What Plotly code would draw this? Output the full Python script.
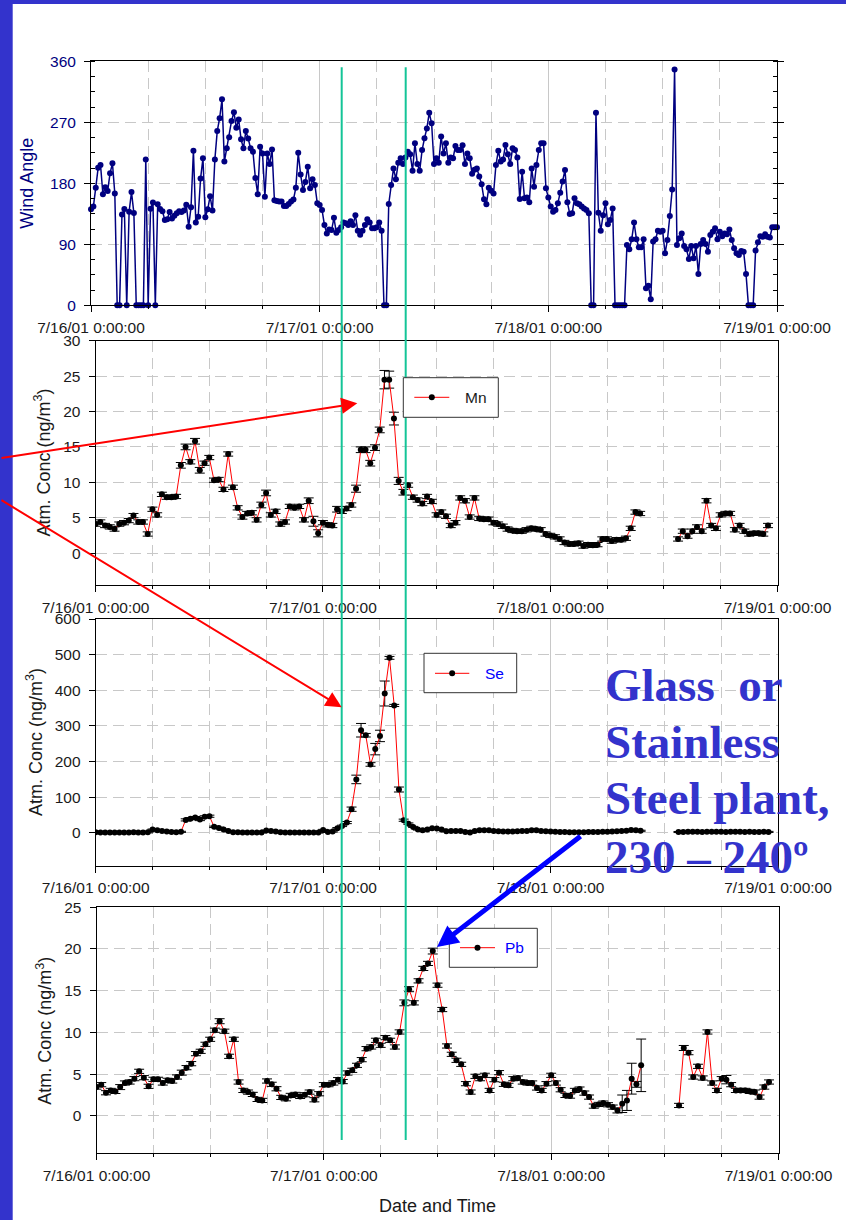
import pandas as pd
import plotly.graph_objects as go

W, H = 846, 1220

# ---- data -------------------------------------------------------------
# wind direction, 15-minute readings from 7/16/01 0:00 to 7/19/01 0:00
wind_angle = [
    141.6, 145.6, 173.6, 203, 207, 163.8, 174, 168.7, 195, 209.5,
    165, 0, 0, 134, 142, 0, 138, 167, 136, 0,
    0, 0, 0, 215, 0, 142.6, 151.5, 0, 149, 142,
    138.7, 126, 127, 137.7, 128, 132, 135.7, 138.7, 137.7, 139.7,
    148.5, 116, 144.6, 228, 122, 130.8, 187, 217, 130, 141.6,
    161, 139.7, 215, 257, 276, 304, 212, 231.6, 248, 272,
    285, 262, 274, 245, 231.6, 257, 246, 231.6, 226.7, 188,
    164, 234, 224, 160, 224, 208.5, 230, 155, 154, 153,
    153, 146.6, 146.6, 149.5, 153, 156, 173.6, 225, 193, 170,
    182, 204.6, 172.6, 186, 177.5, 150.5, 148, 140.7, 118.5, 106,
    112, 111, 129, 107, 111, 115, 122, 121, 118.5, 124,
    118.5, 133, 110, 104, 110, 118.5, 127, 122, 113.6, 113.6,
    115, 122, 110, 0, 0, 149.5, 177.5, 202, 186, 210.5,
    217, 208.5, 218, 226.7, 222.8, 198.7, 239, 208.5, 198.7, 229,
    246.4, 261, 284, 268.5, 208.5, 217, 210.5, 249, 224, 239,
    210.5, 218, 217, 235, 229, 229, 236, 208.5, 224, 217,
    194, 200, 202, 190, 178.5, 156.4, 149, 173.6, 169, 165,
    207, 228, 212, 215, 236.6, 223, 208.5, 231.6, 229, 218,
    157, 197, 158, 159, 152, 202, 175, 207, 229, 239,
    239, 172.6, 159, 145.6, 138, 140.7, 150.5, 166, 182.5, 199.7,
    152, 134.8, 135.7, 158, 150.5, 149, 145.6, 143, 140.7, 135.7,
    0, 0, 284, 136.7, 110, 133, 150.5, 119.5, 126, 143,
    0, 0, 0, 0, 0, 89, 82.6, 97.4, 122, 97.4,
    85.6, 85.6, 97.4, 25, 29, 8.9, 94, 97.4, 110, 108.7,
    110, 76.7, 96.4, 131.8, 171, 348, 89, 98.9, 106, 87.5,
    82.6, 68.4, 87.5, 69.3, 87.5, 46, 90.5, 96.4, 90.5, 79,
    103.8, 108.7, 113.6, 97.4, 108.7, 102, 106, 105, 112, 96.4,
    84, 76.7, 74.3, 80, 79, 46, 0, 0, 0, 80.7,
    93, 102, 101, 104.8, 101, 100, 115, 115, 115,
]

# half-hourly concentrations (ng/m3); None = no sample
mn_conc = [
    4.1, 4.4, 3.9, 3.7, 3.4, 4.1, 4.3, 4.6, 5.3, 4.4,
    4.4, 2.7, 6.2, 5.4, 8.3, 7.9, 7.9, 8.0, 12.4, 15.0,
    12.9, 15.8, 11.7, 12.7, 13.5, 10.3, 10.4, 9.0, 14.0, 9.3,
    6.4, 5.1, 5.6, 5.7, 4.7, 6.8, 8.5, 5.4, 5.9, 4.1,
    4.4, 6.6, 6.4, 6.6, 4.7, 7.4, 4.5, 2.8, 4.3, 4.0,
    3.9, 6.2, 5.9, 6.3, 6.8, 9.1, 14.6, 14.6, 12.7, 14.9,
    17.4, 24.5, 24.5, 19.0, 10.2, 8.6, 9.6, 7.9, 7.5, 7.0,
    8.0, 7.3, 5.4, 5.8, 5.2, 3.9, 4.3, 7.8, 7.4, 5.1,
    7.8, 4.9, 4.8, 4.8, 4.3, 4.1, 3.8, 3.4, 3.2, 3.1,
    3.1, 3.3, 3.5, 3.4, 3.3, 2.7, 2.5, 2.3, 2.0, 1.5,
    1.3, 1.3, 1.4, 1.0, 1.2, 1.1, 1.2, 2.0, 2.0, 1.7,
    1.9, 1.9, 2.1, 3.5, 5.8, 5.6, None, None, None, None,
    None, None, None, 2.0, 3.1, 2.4, 3.1, 3.7, 3.1, 7.4,
    3.9, 3.5, 5.4, 5.6, 5.6, 3.3, 3.9, 3.1, 2.7, 2.8,
    2.8, 2.7, 3.9,
]
mn_err = [
    0.3, 0.3, 0.3, 0.3, 0.3, 0.3, 0.3, 0.3, 0.3, 0.3,
    0.3, 0.3, 0.3, 0.3, 0.3, 0.3, 0.3, 0.3, 0.4, 0.4,
    0.3, 0.4, 0.4, 0.3, 0.3, 0.3, 0.3, 0.3, 0.3, 0.3,
    0.3, 0.3, 0.3, 0.3, 0.3, 0.4, 0.4, 0.3, 0.3, 0.3,
    0.3, 0.3, 0.3, 0.3, 0.3, 0.4, 0.7, 0.5, 0.3, 0.3,
    0.3, 0.4, 0.3, 0.3, 0.3, 0.5, 0.4, 0.4, 0.4, 0.4,
    0.4, 1.3, 1.2, 0.9, 0.5, 0.4, 0.3, 0.3, 0.3, 0.3,
    0.3, 0.3, 0.3, 0.3, 0.3, 0.3, 0.3, 0.3, 0.3, 0.3,
    0.3, 0.3, 0.3, 0.3, 0.3, 0.3, 0.3, 0.3, 0.3, 0.3,
    0.3, 0.3, 0.3, 0.3, 0.3, 0.3, 0.3, 0.3, 0.3, 0.3,
    0.3, 0.3, 0.3, 0.3, 0.3, 0.3, 0.3, 0.3, 0.3, 0.3,
    0.3, 0.3, 0.3, 0.3, 0.3, 0.3, None, None, None, None,
    None, None, None, 0.3, 0.3, 0.3, 0.3, 0.3, 0.3, 0.3,
    0.3, 0.3, 0.3, 0.3, 0.3, 0.3, 0.3, 0.3, 0.3, 0.3,
    0.3, 0.3, 0.3,
]

se_conc = [
    1.5, 1.2, 1.0, 1.1, 1.3, 1.2, 1.0, 1.4, 1.6, 1.2,
    1.1, 1.5, 9.4, 7.5, 5.6, 3.7, 2.5, 2.0, 3.0, 36.5,
    40, 43, 37.4, 45, 46.8, 17, 14, 9.4, 5, 2,
    1.5, 1.2, 1.0, 1.3, 1.1, 1.4, 6.6, 5.6, 3.7, 1.9,
    1.0, 1.0, 1.2, 1.1, 1.0, 1.3, 1.2, 1.0, 8.4, 2.8,
    3.7, 13, 19.7, 29, 66.5, 150, 288, 274, 192, 235,
    272, 391, 491, 357.5, 121.7, 35.6, 26, 16.8, 9.4, 7.5,
    9.4, 13, 12, 9.4, 4.7, 5.6, 5.6, 5.6, 2.8, 1.0,
    5.6, 7.5, 7.5, 7.5, 5.6, 4.7, 3.7, 3.7, 3.7, 4.7,
    5.6, 5.6, 7.5, 7.5, 5.6, 4.7, 3.7, 3.0, 2.5, 2.2,
    2.0, 2.0, 1.8, 2.0, 2.2, 2.5, 2.8, 3.0, 3.5, 4.0,
    4.5, 5.0, 6.0, 8.0, 7.5, 6.0, None, None, None, None,
    None, None, None, 2.5, 2.8, 3.0, 3.2, 3.0, 2.8, 3.0,
    3.2, 3.4, 3.0, 2.8, 3.0, 3.2, 3.0, 2.8, 3.0, 2.6,
    2.8, 3.0, 2.8,
]
se_err = [
    1.5, 1.5, 1.5, 1.5, 1.5, 1.5, 1.5, 1.5, 1.5, 1.5,
    1.5, 1.5, 1.5, 1.5, 1.5, 1.5, 1.5, 1.5, 1.5, 3,
    3, 3, 3, 3, 3, 2, 2, 1.5, 1.5, 1.5,
    1.5, 1.5, 1.5, 1.5, 1.5, 1.5, 1.5, 1.5, 1.5, 1.5,
    1.5, 1.5, 1.5, 1.5, 1.5, 1.5, 1.5, 1.5, 1.5, 1.5,
    1.5, 2, 2, 3, 6, 12, 19, 5, 5, 16,
    16, 35, 4, 3, 7, 3, 2, 1.5, 1.5, 1.5,
    1.5, 1.5, 1.5, 1.5, 1.5, 1.5, 1.5, 1.5, 1.5, 1.5,
    1.5, 1.5, 1.5, 1.5, 1.5, 1.5, 1.5, 1.5, 1.5, 1.5,
    1.5, 1.5, 1.5, 1.5, 1.5, 1.5, 1.5, 1.5, 1.5, 1.5,
    1.5, 1.5, 1.5, 1.5, 1.5, 1.5, 1.5, 1.5, 1.5, 1.5,
    1.5, 1.5, 1.5, 2, 2, 1.5, None, None, None, None,
    None, None, None, 1.5, 1.5, 1.5, 1.5, 1.5, 1.5, 1.5,
    1.5, 1.5, 1.5, 1.5, 1.5, 1.5, 1.5, 1.5, 1.5, 1.5,
    1.5, 1.5, 1.5,
]

pb_conc = [
    3.44, 3.73, 2.76, 3.04, 2.92, 3.44, 3.93, 4.05, 4.45, 5.33,
    4.57, 3.53, 4.37, 4.37, 3.93, 4.25, 4.17, 4.65, 5.17, 5.77,
    6.25, 7.45, 7.73, 8.57, 9.17, 10.26, 11.34, 10.14, 7.13, 9.17,
    4.05, 3.04, 2.84, 2.56, 1.96, 1.84, 4.17, 3.77, 3.24, 2.2,
    2.04, 2.44, 2.56, 2.32, 2.52, 2.84, 1.92, 2.64, 3.73, 3.73,
    3.93, 4.33, 4.1, 5.13, 5.45, 6.05, 6.73, 8.05, 8.25, 9.05,
    8.45, 9.37, 9.05, 8.25, 10.05, 13.54, 15.18, 13.54, 16.18, 17.67,
    18.27, 19.75, 15.66, 12.74, 8.37, 7.37, 6.65, 6.17, 3.85, 2.84,
    4.73, 4.45, 4.85, 3.04, 4.33, 5.17, 3.77, 3.65, 4.45, 4.53,
    4.05, 3.93, 3.93, 3.33, 3.04, 3.85, 4.85, 3.93, 3.12, 2.44,
    2.36, 3.04, 3.2, 2.72, 2.24, 1.16, 1.36, 1.52, 1.32, 1.04,
    0.64, 1.44, 1.84, 4.45, 3.77, 6.05, None, None, None, None,
    None, None, None, 1.24, 8.13, 7.57, 4.65, 5.93, 4.53, 10.05,
    3.93, 3.04, 4.45, 4.33, 3.73, 3.04, 3.04, 3.04, 2.92, 2.84,
    2.24, 3.44, 4.05,
]
pb_err = [
    0.25, 0.25, 0.25, 0.25, 0.25, 0.3, 0.25, 0.25, 0.25, 0.25,
    0.25, 0.25, 0.25, 0.25, 0.25, 0.25, 0.25, 0.25, 0.3, 0.25,
    0.25, 0.25, 0.25, 0.25, 0.25, 0.25, 0.3, 0.25, 0.25, 0.25,
    0.25, 0.25, 0.25, 0.25, 0.25, 0.25, 0.25, 0.25, 0.25, 0.25,
    0.25, 0.25, 0.25, 0.25, 0.25, 0.25, 0.25, 0.25, 0.25, 0.25,
    0.25, 0.25, 0.25, 0.25, 0.25, 0.25, 0.25, 0.25, 0.25, 0.25,
    0.25, 0.25, 0.25, 0.25, 0.25, 0.35, 0.3, 0.25, 0.25, 0.25,
    0.25, 0.35, 0.25, 0.25, 0.25, 0.25, 0.25, 0.25, 0.25, 0.25,
    0.25, 0.25, 0.25, 0.25, 0.25, 0.25, 0.25, 0.25, 0.25, 0.25,
    0.25, 0.25, 0.25, 0.25, 0.25, 0.25, 0.25, 0.25, 0.25, 0.25,
    0.25, 0.25, 0.25, 0.25, 0.25, 0.25, 0.25, 0.25, 0.25, 0.25,
    0.3, 1.05, 1.2, 1.85, 0.35, 3.15, None, None, None, None,
    None, None, None, 0.25, 0.3, 0.25, 0.25, 0.25, 0.25, 0.25,
    0.25, 0.25, 0.25, 0.5, 0.25, 0.25, 0.25, 0.25, 0.25, 0.25,
    0.25, 0.25, 0.25,
]

day_ticks = ["2001-07-16", "2001-07-17", "2001-07-18", "2001-07-19"]
day_labels = ["7/16/01 0:00:00", "7/17/01 0:00:00", "7/18/01 0:00:00", "7/19/01 0:00:00"]

wind_time = pd.date_range("2001-07-16 00:00", periods=len(wind_angle), freq="15min")
sample_time = pd.date_range("2001-07-16 00:00", periods=len(mn_conc), freq="30min")

# ---- helpers ----------------------------------------------------------
SANS = "Liberation Sans, Arial, sans-serif"
SERIF = "Liberation Serif, Times New Roman, serif"
NAVY = "#000080"
GRID = "#c8c8c8"
DASH = "11px,6px"
SLIDE_BLUE = "#3333CC"


def px(x):
    return x / W


def py(y):
    return 1 - y / H


def x_axis(left, right, anchor):
    return dict(
        domain=[px(left), px(right)], anchor=anchor, type="date",
        range=[day_ticks[0], day_ticks[-1]], automargin=False,
        tickmode="array", tickvals=day_ticks, ticktext=day_labels,
        ticks="outside", ticklen=6, tickwidth=1, tickcolor="#000",
        ticklabelstandoff=2,
        showline=True, linecolor="#000", linewidth=1, mirror=True,
        showgrid=True, gridcolor=GRID, gridwidth=1,
        minor=dict(dtick=6 * 3600 * 1000, ticks="outside", ticklen=3,
                   tickcolor="#000", showgrid=True, gridcolor=GRID,
                   griddash=DASH),
        zeroline=False, fixedrange=True,
        tickfont=dict(family=SANS, size=15.5, color="#1a1a1a"),
    )


def y_axis(top, bottom, anchor, rng, tickvals, color):
    return dict(
        domain=[py(bottom), py(top)], anchor=anchor, range=rng, automargin=False,
        tickmode="array", tickvals=tickvals,
        ticks="outside", ticklen=6, tickwidth=1, tickcolor="#000",
        ticklabelstandoff=5,
        showline=True, linecolor="#000", linewidth=1, mirror=True,
        showgrid=True, gridcolor=GRID, griddash=DASH,
        zeroline=False, fixedrange=True,
        tickfont=dict(family=SANS, size=15.5, color=color),
    )


# panel boxes in pixels: left, right, top, bottom
P_WIND = (91, 777, 61.3, 305.3)
P_MN = (95.6, 777.5, 340.7, 585)
P_SE = (95.7, 778, 619, 865.7)
P_PB = (96.5, 778.5, 907.3, 1153.3)

fig = go.Figure()

fig.add_trace(go.Scatter(
    x=wind_time, y=wind_angle, mode="lines+markers", xaxis="x", yaxis="y",
    line=dict(color=NAVY, width=1.5), marker=dict(color=NAVY, size=6),
    cliponaxis=False, showlegend=False, name="Wind Angle",
))

for name, conc, err, xa, ya in [
    ("Mn", mn_conc, mn_err, "x2", "y2"),
    ("Se", se_conc, se_err, "x3", "y3"),
    ("Pb", pb_conc, pb_err, "x4", "y4"),
]:
    fig.add_trace(go.Scatter(
        x=sample_time, y=conc, mode="lines+markers", xaxis=xa, yaxis=ya,
        name=name, showlegend=False, connectgaps=False,
        line=dict(color="#FF0000", width=1),
        marker=dict(color="#000", size=6),
        error_y=dict(type="data", array=err, visible=True, color="#000",
                     thickness=1, width=5),
    ))

layout = dict(
    template="none",
    width=W, height=H, autosize=False,
    margin=dict(l=0, r=0, t=0, b=0, pad=0),
    paper_bgcolor="white", plot_bgcolor="white",
    font=dict(family=SANS, color="#1a1a1a"),
    showlegend=False,
)

layout["xaxis"] = x_axis(P_WIND[0], P_WIND[1], "y")
layout["xaxis2"] = x_axis(P_MN[0], P_MN[1], "y2")
layout["xaxis3"] = x_axis(P_SE[0], P_SE[1], "y3")
layout["xaxis4"] = x_axis(P_PB[0], P_PB[1], "y4")

wind_y = y_axis(P_WIND[2], P_WIND[3], "x", [0, 360], [0, 90, 180, 270, 360], NAVY)
wind_y["mirror"] = "ticks"
wind_y["minor"] = dict(dtick=22.5, ticks="inside", ticklen=4, tickcolor="#000",
                       showgrid=False)
layout["yaxis"] = wind_y
layout["yaxis2"] = y_axis(P_MN[2], P_MN[3], "x2", [-4.5, 30],
                          [0, 5, 10, 15, 20, 25, 30], "#1a1a1a")
layout["yaxis3"] = y_axis(P_SE[2], P_SE[3], "x3", [-92, 600],
                          [0, 100, 200, 300, 400, 500, 600], "#1a1a1a")
layout["yaxis4"] = y_axis(P_PB[2], P_PB[3], "x4", [-4.5, 25],
                          [0, 5, 10, 15, 20, 25], "#1a1a1a")

fig.update_layout(**layout)

# ---- slide decorations -------------------------------------------------
shapes = []
# slide frame strips
shapes.append(dict(type="rect", xref="paper", yref="paper", layer="below",
                   x0=0, x1=px(12.7), y0=0, y1=1, fillcolor=SLIDE_BLUE, line_width=0))
shapes.append(dict(type="rect", xref="paper", yref="paper", layer="below",
                   x0=0, x1=1, y0=py(4), y1=1, fillcolor=SLIDE_BLUE, line_width=0))

# time window markers
for gx in (341.7, 405.7):
    shapes.append(dict(type="line", xref="paper", yref="paper", layer="above",
                       x0=px(gx), x1=px(gx), y0=py(67.3), y1=py(1140),
                       line=dict(color="#14C497", width=2)))

# legend boxes: (box l, t, r, b), sample line y, sample x0, x1, label x, label, colour
legend_items = [
    ((403.3, 377.7, 498.3, 417.3), 397.3, 414.3, 449.3, 462.7, "Mn", "#1a1a1a"),
    ((424.0, 653.3, 516.7, 692.7), 673.3, 435.0, 469.3, 482.7, "Se", "#0000FF"),
    ((449.3, 928.3, 537.3, 967.3), 947.7, 460.0, 495.0, 503.3, "Pb", "#0000FF"),
]
annotations = []
for (bl, bt, br, bb), ly, lx0, lx1, tx, label, tcol in legend_items:
    shapes.append(dict(type="rect", xref="paper", yref="paper", layer="above",
                       x0=px(bl), x1=px(br), y0=py(bb), y1=py(bt),
                       fillcolor="white", line=dict(color="#333", width=1)))
    shapes.append(dict(type="line", xref="paper", yref="paper", layer="above",
                       x0=px(lx0), x1=px(lx1), y0=py(ly), y1=py(ly),
                       line=dict(color="#FF0000", width=1)))
    cx = (lx0 + lx1) / 2
    shapes.append(dict(type="circle", xref="paper", yref="paper", layer="above",
                       x0=px(cx - 3), x1=px(cx + 3), y0=py(ly + 3), y1=py(ly - 3),
                       fillcolor="#000", line=dict(color="#000", width=0)))
    annotations.append(dict(xref="paper", yref="paper", x=px(tx), y=py(ly),
                            xanchor="left", yanchor="middle", showarrow=False,
                            text=label, font=dict(family=SANS, size=15.5, color=tcol)))

# axis titles
for text, cx, cy, col in [
    ("Wind Angle", 27.4, 183.3, NAVY),
    ("Atm. Conc (ng/m<sup>3</sup>)", 43.5, 463, "#1a1a1a"),
    ("Atm. Conc (ng/m<sup>3</sup>)", 34.0, 742, "#1a1a1a"),
    ("Atm. Conc (ng/m<sup>3</sup>)", 43.7, 1031, "#1a1a1a"),
]:
    annotations.append(dict(xref="paper", yref="paper", x=px(cx), y=py(cy),
                            xanchor="center", yanchor="middle", textangle=-90,
                            showarrow=False, text=text,
                            font=dict(family=SANS, size=18, color=col)))
annotations.append(dict(xref="paper", yref="paper", x=px(437.5), y=py(1206),
                        xanchor="center", yanchor="middle", showarrow=False,
                        text="Date and Time",
                        font=dict(family=SANS, size=18, color="#1a1a1a")))

# arrows: (tip x, tip y, tail x, tail y, colour, width, head size)
arrows = [
    (357.3, 403.3, -4, 458.3, "#FF0000", 2, 1.6),
    (341.7, 707.3, -4, 499.3, "#FF0000", 2, 1.6),
    (437.0, 947.0, 582.0, 835.0, "#0000FF", 5, 0.85),
]
for tx, ty, sx, sy, col, wid, hs in arrows:
    annotations.append(dict(xref="paper", yref="paper", x=px(tx), y=py(ty),
                            ax=sx - tx, ay=sy - ty, axref="pixel", ayref="pixel",
                            text="", showarrow=True, arrowhead=2, arrowsize=hs,
                            arrowwidth=wid, arrowcolor=col, standoff=0))

# source note
note_lines = ["Glass\u00a0\u00a0or", "Stainless", "Steel plant,", "230 \u2013 240\u00ba"]
note_baselines = [700, 756.7, 813.3, 871.7]
for line, base in zip(note_lines, note_baselines):
    annotations.append(dict(xref="paper", yref="paper", x=px(602.5), y=py(base - 15),
                            xanchor="left", yanchor="middle", showarrow=False,
                            text=line,
                            font=dict(family=SERIF, size=47, color=SLIDE_BLUE,
                                      weight="bold")))

fig.update_layout(shapes=shapes, annotations=annotations)

fig.write_html("out.html")
